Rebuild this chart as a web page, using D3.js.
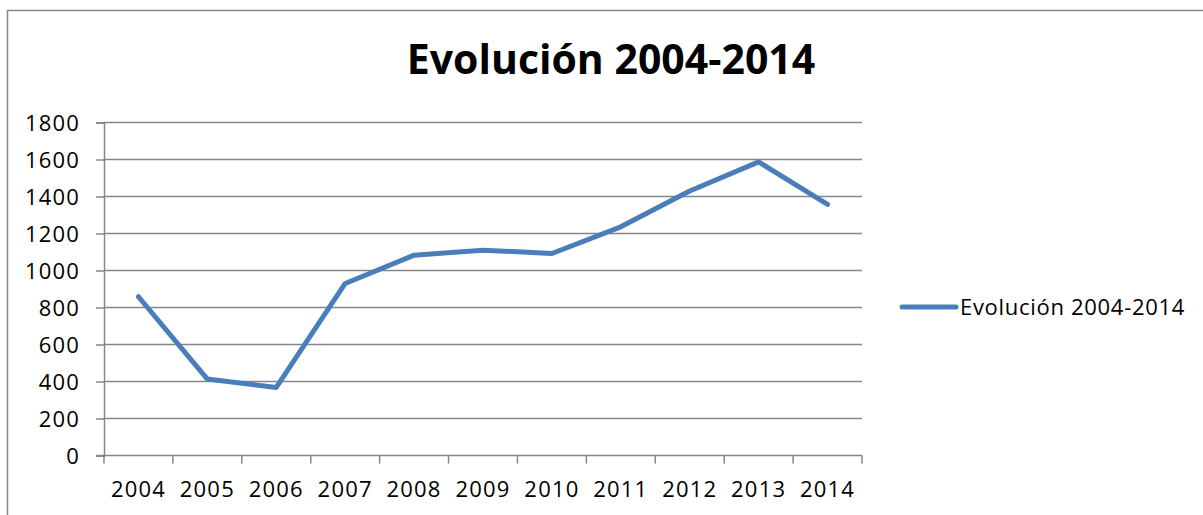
<!DOCTYPE html>
<html>
<head>
<meta charset="utf-8">
<script src="https://cdn.jsdelivr.net/npm/d3@7"></script>
<style>
  html, body { margin: 0; padding: 0; background: #fff; }
  svg { display: block; font-family: "Open Sans", "Noto Sans", sans-serif; }
</style>
</head>
<body>
<svg id="chart" width="1203" height="515"></svg>
<script>
const title = "Evolución 2004-2014";
const seriesName = "Evolución 2004-2014";
const years = ["2004","2005","2006","2007","2008","2009","2010","2011","2012","2013","2014"];
const values = [858, 413, 368, 930, 1083, 1110, 1092, 1236, 1430, 1587, 1357];
const yTicks = [0, 200, 400, 600, 800, 1000, 1200, 1400, 1600, 1800];

(function () {
const svg = d3.select("#chart");
const gridColor = "#868686";
const lineColor = "#4a7ebb";

// outer frame (left and top edges visible)
svg.append("path")
  .attr("d", "M7.5,515 L7.5,10.5 L1203,10.5")
  .attr("fill", "none").attr("stroke", gridColor).attr("stroke-width", 1.5);

const pLeft = 104, pRight = 862, pTop = 122.5, pBottom = 455.5;

const x = d3.scaleBand().domain(years).range([pLeft, pRight]).padding(0);
const y = d3.scaleLinear().domain([0, 1800]).range([pBottom, pTop]);

// gridlines
svg.append("g").selectAll("line").data(yTicks.filter(d => d > 0)).join("line")
  .attr("x1", pLeft).attr("x2", pRight)
  .attr("y1", d => y(d)).attr("y2", d => y(d))
  .attr("stroke", gridColor).attr("stroke-width", 1.5);

// y axis
const yAxis = svg.append("g").attr("transform", `translate(${pLeft},0)`)
  .call(d3.axisLeft(y).tickValues(yTicks).tickSize(8).tickPadding(16).tickFormat(d3.format("d")));
yAxis.select(".domain").attr("stroke", gridColor).attr("stroke-width", 1.5);
yAxis.selectAll(".tick line").attr("stroke", gridColor).attr("stroke-width", 1.5);
yAxis.selectAll(".tick text").attr("font-size", 22).attr("fill", "#000")
  .attr("letter-spacing", 1.2).attr("dy", "0.36em")
  .attr("font-family", "'Open Sans', sans-serif");

// x axis
const xAxis = svg.append("g").attr("transform", `translate(0,${pBottom})`)
  .call(d3.axisBottom(x).tickSize(0).tickPadding(26));
xAxis.select(".domain").remove();
xAxis.selectAll(".tick text").attr("font-size", 22).attr("fill", "#000")
  .attr("letter-spacing", 1.2)
  .attr("font-family", "'Open Sans', sans-serif");
svg.append("line").attr("x1", pLeft - 8).attr("x2", pRight).attr("y1", pBottom).attr("y2", pBottom)
  .attr("stroke", gridColor).attr("stroke-width", 1.5);
const bounds = years.map(d => x(d)).concat([x(years[years.length - 1]) + x.bandwidth()]);
svg.append("g").selectAll("line").data(bounds).join("line")
  .attr("x1", d => d).attr("x2", d => d)
  .attr("y1", pBottom).attr("y2", pBottom + 8)
  .attr("stroke", gridColor).attr("stroke-width", 1.5);

// line
const line = d3.line()
  .x((d, i) => x(years[i]) + x.bandwidth() / 2)
  .y(d => y(d));
svg.append("path").datum(values)
  .attr("d", line)
  .attr("fill", "none").attr("stroke", lineColor)
  .attr("stroke-width", 5).attr("stroke-linejoin", "round").attr("stroke-linecap", "round");

// title
svg.append("text").attr("x", 611).attr("y", 74)
  .attr("text-anchor", "middle").attr("font-size", 41).attr("font-weight", "bold")
  .attr("fill", "#000").text(title);

// legend
svg.append("line").attr("x1", 902).attr("x2", 956).attr("y1", 307).attr("y2", 307)
  .attr("stroke", lineColor).attr("stroke-width", 5).attr("stroke-linecap", "round");
svg.append("text").attr("x", 960).attr("y", 315)
  .attr("font-size", 22).attr("letter-spacing", 0.7).attr("fill", "#000").text(seriesName);
})();
</script>
</body>
</html>
